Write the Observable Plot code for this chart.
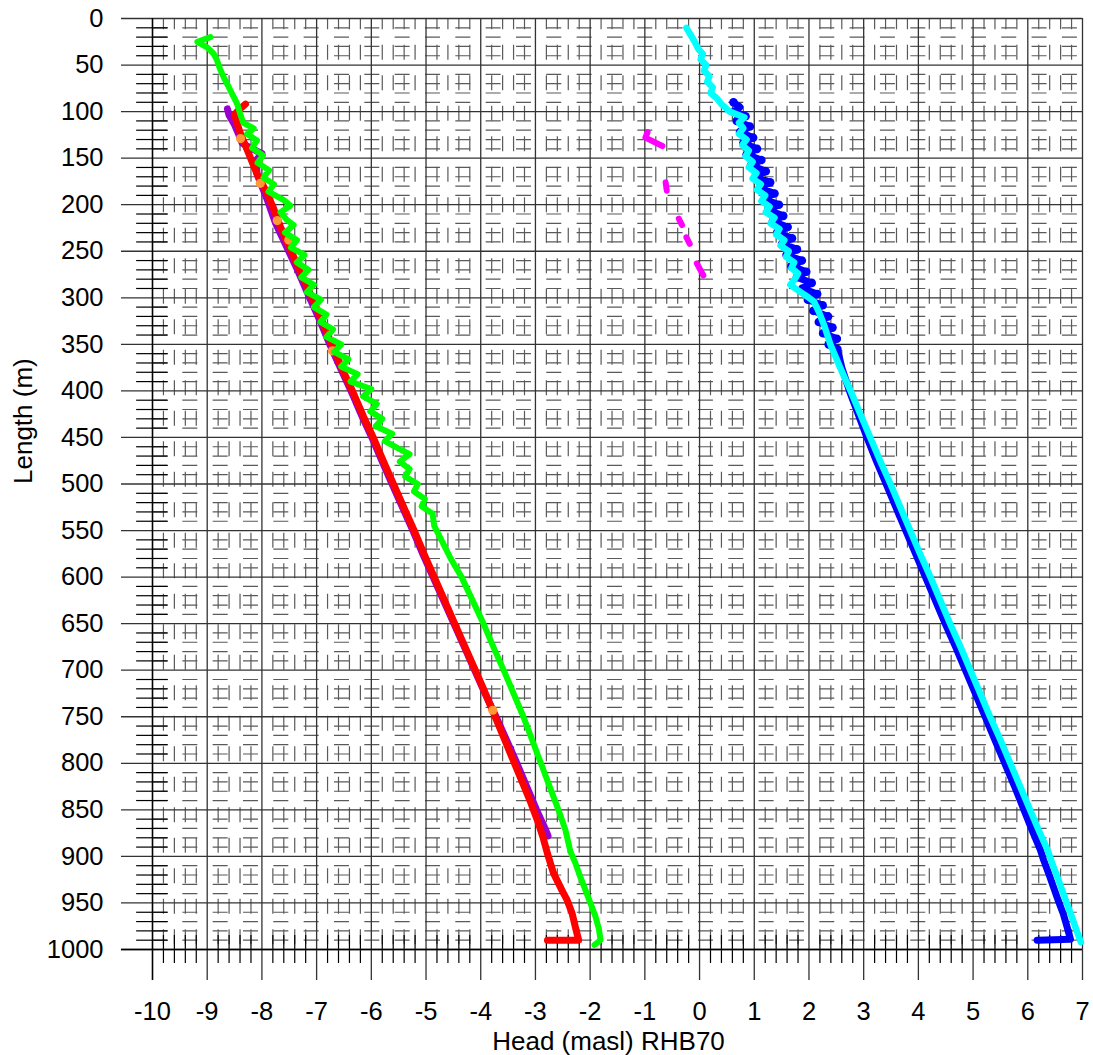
<!DOCTYPE html>
<html>
<head>
<meta charset="utf-8">
<script src="https://cdn.jsdelivr.net/npm/d3@7"></script>
<script src="https://cdn.jsdelivr.net/npm/@observablehq/plot@0.6"></script>
<style>
  html, body { margin: 0; padding: 0; background: #fff; overflow: hidden; }
  #chart svg { display: block; }
</style>
</head>
<body>
<div id="chart"></div>
<script>
// ---- tick labels / axis positions ----
const xTicks = [-10, -9, -8, -7, -6, -5, -4, -3, -2, -1, 0, 1, 2, 3, 4, 5, 6, 7];
const yTicks = [0, 50, 100, 150, 200, 250, 300, 350, 400, 450, 500, 550, 600, 650, 700, 750, 800, 850, 900, 950, 1000];
const xMinorTicks = d3.range(-50, 36).filter(i => i % 5 !== 0).map(i => i / 5);
const yMinorTicks = d3.range(0, 1001, 10).filter(v => v % 50 !== 0);

const xLabel = "Head (masl) RHB70";
const yLabel = "Length (m)";

// ---- series: [head, length] ----
const green = [[-8.94,20],[-9.18,25],[-9.00,31],[-8.88,38],[-8.82,45],[-8.76,55],[-8.70,63],[-8.62,72],[-8.57,78],[-8.50,86],[-8.45,92],[-8.40,102],[-8.34,112],[-8.15,118],[-8.27,124],[-8.09,131],[-8.18,139],[-7.98,147],[-8.08,155],[-7.87,163],[-7.97,171],[-7.78,178],[-7.88,186],[-7.60,195],[-7.48,201],[-7.66,208],[-7.55,216],[-7.42,222],[-7.58,230],[-7.36,238],[-7.47,246],[-7.22,254],[-7.36,262],[-7.15,270],[-7.28,278],[-7.05,286],[-7.18,294],[-6.92,302],[-7.05,310],[-6.82,318],[-6.93,326],[-6.70,334],[-6.82,342],[-6.55,350],[-6.68,358],[-6.42,366],[-6.55,374],[-6.25,382],[-6.38,390],[-6.00,398],[-6.15,406],[-5.90,414],[-6.02,422],[-5.80,430],[-5.92,438],[-5.62,446],[-5.75,454],[-5.50,462],[-5.30,468],[-5.48,476],[-5.30,484],[-5.38,492],[-5.15,500],[-5.22,508],[-5.02,516],[-5.08,524],[-4.88,532],[-4.85,545],[-4.72,560],[-4.55,580],[-4.35,600],[-4.15,625],[-3.95,650],[-3.77,675],[-3.58,700],[-3.40,725],[-3.22,750],[-3.06,775],[-2.90,800],[-2.74,825],[-2.58,850],[-2.45,872],[-2.36,895],[-2.27,907],[-2.18,922],[-2.08,937],[-1.99,951],[-1.90,965],[-1.84,978],[-1.81,990],[-1.92,995]];

const red = [[-8.30,92],[-8.40,97],[-8.50,103],[-8.45,113],[-8.39,124],[-8.27,141],[-8.09,167],[-7.93,185],[-7.80,202],[-7.66,224],[-7.48,248],[-7.29,273],[-7.10,298],[-6.90,325],[-6.71,352],[-6.52,378],[-6.33,402],[-6.14,428],[-5.95,452],[-5.76,478],[-5.58,502],[-5.40,526],[-5.21,551],[-5.03,576],[-4.85,600],[-4.67,624],[-4.49,648],[-4.31,672],[-4.13,696],[-3.95,720],[-3.78,744],[-3.61,768],[-3.44,792],[-3.27,816],[-3.10,840],[-2.96,862],[-2.86,880],[-2.78,897],[-2.67,918],[-2.51,937],[-2.42,947],[-2.33,961],[-2.27,976],[-2.21,990],[-2.78,990]];

const purple = [[-8.63,97],[-8.60,104],[-8.51,113],[-8.42,125],[-8.36,134],[-8.18,140],[-8.00,145],[-8.10,152],[-8.09,167],[-7.90,195],[-7.75,220],[-7.55,245],[-7.35,270],[-7.15,297],[-6.95,323],[-6.76,350],[-6.56,376],[-6.37,400],[-6.18,426],[-5.99,450],[-5.80,476],[-5.62,500],[-5.43,525],[-5.24,550],[-5.06,575],[-4.87,600],[-4.68,625],[-4.49,650],[-4.30,675],[-4.11,700],[-3.92,725],[-3.72,750],[-3.53,775],[-3.34,800],[-3.16,825],[-2.98,850],[-2.84,868],[-2.77,878]];

const orange = [[-8.39,129],[-8.03,177],[-7.72,217],[-7.51,238],[-6.71,357],[-3.78,743]];

const magenta = [
  [[-0.95,122],[-0.99,128],[-0.68,137]],
  [[-0.62,176],[-0.60,185]],
  [[-0.38,215],[-0.32,222]],
  [[-0.24,235],[-0.18,242]],
  [[-0.05,263],[0.07,276]]
];

const blueUpper = [[0.62,90],[0.72,95],[0.64,100],[0.84,105],[0.68,110],[0.92,116],[0.74,122],[0.98,128],[0.80,134],[1.05,140],[0.86,146],[1.13,152],[0.94,158],[1.21,164],[1.02,170],[1.29,176],[1.10,182],[1.37,188],[1.18,194],[1.45,200],[1.26,206],[1.53,212],[1.34,218],[1.61,224],[1.42,230],[1.69,236],[1.51,242],[1.78,248],[1.59,254],[1.87,260],[1.68,266],[1.95,272],[1.78,278],[2.05,284],[1.88,290],[2.15,296],[1.98,302],[2.25,308],[2.08,314],[2.35,320],[2.18,326],[2.43,332],[2.26,338],[2.51,344],[2.36,350],[2.52,355]];
const blueLower = [[2.60,375],[2.74,400],[2.90,425],[3.06,450],[3.23,475],[3.41,500],[3.59,525],[3.77,550],[3.95,575],[4.13,600],[4.31,625],[4.49,650],[4.68,675],[4.86,700],[5.04,725],[5.22,750],[5.40,775],[5.58,800],[5.76,825],[5.93,850],[6.08,872],[6.23,893],[6.29,904],[6.38,918],[6.47,933],[6.56,948],[6.65,962],[6.72,976],[6.78,989],[6.17,990]];

const cyan = [[-0.24,10],[-0.16,18],[-0.08,26],[-0.02,33],[0.06,38],[0.02,44],[0.12,50],[0.08,56],[0.18,62],[0.14,68],[0.24,74],[0.20,80],[0.32,86],[0.40,92],[0.55,100],[0.82,106],[0.72,112],[0.80,118],[0.72,124],[0.86,130],[0.78,136],[0.90,142],[0.84,148],[0.97,154],[0.90,160],[1.04,166],[0.97,172],[1.12,178],[1.05,184],[1.20,190],[1.13,196],[1.28,202],[1.21,208],[1.37,214],[1.30,220],[1.46,226],[1.40,232],[1.55,238],[1.48,244],[1.63,250],[1.58,256],[1.73,262],[1.68,268],[1.80,274],[1.74,280],[1.66,286],[1.80,292],[2.00,300],[2.09,304],[2.18,315],[2.28,330],[2.39,350],[2.57,375],[2.76,400],[2.94,425],[3.12,450],[3.30,475],[3.49,500],[3.67,525],[3.85,550],[4.03,575],[4.22,600],[4.40,625],[4.58,650],[4.77,675],[4.95,700],[5.13,725],[5.31,750],[5.50,775],[5.68,800],[5.86,825],[6.04,850],[6.20,872],[6.36,893],[6.45,908],[6.54,922],[6.65,940],[6.78,961],[6.87,976],[6.97,992]];

// ---- build ----
const magentaPts = magenta.flatMap((seg, k) => seg.map(p => ({x: p[0], y: p[1], k})));
const blue = blueUpper.concat(blueLower);
const X = d => d[0], Y = d => d[1];
const lineOpts = (stroke, w) => ({x: X, y: Y, stroke, strokeWidth: w, strokeLinejoin: "round", strokeLinecap: "round"});

const fontFamily = "'Liberation Sans', Arial, Helvetica, sans-serif";
const fmt = d => String(d);

const chart = Plot.plot({
  width: 1093,
  height: 1055,
  marginLeft: 152,
  marginRight: 11,
  marginTop: 18,
  marginBottom: 106,
  x: {domain: [-10, 7]},
  y: {domain: [0, 1000], reverse: true},
  style: {fontFamily, background: "#fff", color: "#000", overflow: "visible"},
  marks: [
    // minor grid (dashed)
    Plot.ruleX(xMinorTicks, {x: d => d, y1: 0, y2: 1000, stroke: "#5a5a5a", strokeWidth: 1.2, strokeDasharray: "15,15.5", strokeDashoffset: 3.8}),
    Plot.ruleY(yMinorTicks, {y: d => d, x1: -10, x2: 7, stroke: "#5a5a5a", strokeWidth: 1.2, strokeDasharray: "15,15.33", strokeDashoffset: 0}),
    // minor cross ticks on the axes
    Plot.ruleX(xMinorTicks, {x: d => d, y1: 985, y2: 1015, stroke: "#000", strokeWidth: 1.2}),
    Plot.ruleY(yMinorTicks, {y: d => d, x1: -10.29, x2: -9.71, stroke: "#000", strokeWidth: 1.2}),
    // major grid + outside major ticks
    Plot.ruleX(xTicks, {x: d => d, y1: 0, y2: 1033.3, stroke: "#333", strokeWidth: 1.3}),
    Plot.ruleY(yTicks, {y: d => d, x1: -10.567, x2: 7, stroke: "#333", strokeWidth: 1.3}),
    // axis lines
    Plot.ruleX([-10], {x: d => d, y1: 0, y2: 1033.3, stroke: "#000", strokeWidth: 1.4}),
    Plot.ruleY([1000], {y: d => d, x1: -10.567, x2: 7, stroke: "#000", strokeWidth: 1.4}),
    // series
    Plot.line(purple, lineOpts("#9900cc", 7)),
    Plot.line(red, lineOpts("#ff0000", 7)),
    Plot.dot(orange, {x: X, y: Y, r: 4.6, fill: "#ff9933"}),
    Plot.line(green, lineOpts("#00ff00", 6)),
    Plot.line(magentaPts, {x: "x", y: "y", z: "k", stroke: "#ff00ff", strokeWidth: 6, strokeLinecap: "round", strokeLinejoin: "round"}),
    Plot.line(blue, lineOpts("#0000ff", 7)),
    Plot.dot(blueUpper, {x: X, y: Y, r: 4.3, fill: "#0000ff"}),
    Plot.line(cyan, lineOpts("#00ffff", 6.5)),
    // axes
    Plot.axisX({ticks: xTicks, tickSize: 0, tickPadding: 52.7, tickFormat: fmt, label: null, fontSize: 25.5}),
    Plot.axisY({ticks: yTicks, tickSize: 0, tickPadding: 49, tickFormat: fmt, label: null, fontSize: 25.5}),
    // axis titles
    Plot.text([xLabel], {text: d => d, frameAnchor: "bottom", lineAnchor: "bottom", dx: -9, dy: 100, fontSize: 26, fill: "#000"}),
    Plot.text([yLabel], {text: d => d, frameAnchor: "left", lineAnchor: "middle", rotate: -90, dx: -129, fontSize: 26, fill: "#000"})
  ]
});
document.getElementById("chart").appendChild(chart);
</script>
</body>
</html>
